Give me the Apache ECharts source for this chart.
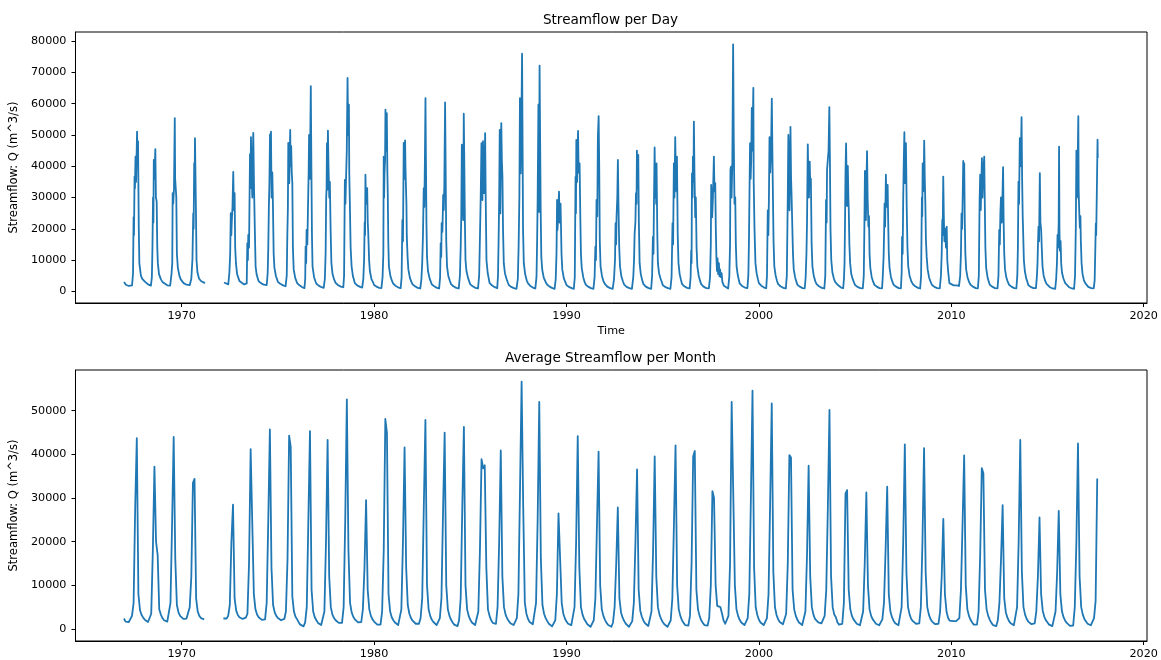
<!DOCTYPE html>
<html>
<head>
<meta charset="utf-8">
<script src="https://cdn.jsdelivr.net/npm/echarts@6/dist/echarts.min.js"></script>
<style>
html,body{margin:0;padding:0;background:#fff;}
#chart{width:1161px;height:660px;}
</style>
</head>
<body>
<div id="chart"></div>
<script>
// ---------- DATA ----------
// Daily streamflow, segment before the gap: [decimal year, Q m^3/s]
const dailyA = [
[1967.00,3000],[1967.10,2100],[1967.25,1700],[1967.42,1900],[1967.47,5700],[1967.50,23700],[1967.52,18000],[1967.55,36700],[1967.57,33000],[1967.60,43100],[1967.63,35000],[1967.68,51100],[1967.70,42000],[1967.73,48000],[1967.77,20000],[1967.80,8900],[1967.88,5000],[1967.95,4000],
[1968.00,3800],[1968.10,3000],[1968.25,2200],[1968.40,1800],[1968.45,4500],[1968.48,14000],[1968.51,30000],[1968.53,22000],[1968.55,42000],[1968.58,36000],[1968.63,45500],[1968.66,30000],[1968.70,28700],[1968.73,14200],[1968.76,9000],[1968.82,5500],[1968.92,3800],
[1969.00,3000],[1969.10,2400],[1969.25,1900],[1969.40,1800],[1969.47,5500],[1969.51,9000],[1969.53,31400],[1969.56,28000],[1969.60,33000],[1969.64,55400],[1969.66,36000],[1969.69,35600],[1969.72,30000],[1969.75,12000],[1969.80,7500],[1969.88,5000],[1969.95,3800],
[1970.00,3200],[1970.10,2600],[1970.25,2100],[1970.42,2000],[1970.50,4000],[1970.56,10500],[1970.60,24900],[1970.62,20000],[1970.65,41000],[1970.67,33500],[1970.69,49000],[1970.71,40000],[1970.74,26000],[1970.77,10000],[1970.82,6000],[1970.90,4100],
[1971.00,3300],[1971.10,2900],[1971.21,2600]
];
// Daily streamflow, segment after the gap
const dailyB = [
[1972.20,2800],[1972.30,2300],[1972.42,2200],[1972.48,6100],[1972.52,12000],[1972.55,25000],[1972.58,18000],[1972.60,21800],[1972.64,27000],[1972.68,38200],[1972.71,26000],[1972.75,31400],[1972.78,14000],[1972.82,8900],[1972.88,5500],[1972.95,4200],
[1973.00,3300],[1973.10,2700],[1973.25,2200],[1973.38,2500],[1973.41,15400],[1973.44,10000],[1973.46,18000],[1973.50,14000],[1973.55,43900],[1973.57,33000],[1973.60,49300],[1973.63,38000],[1973.67,30000],[1973.70,45000],[1973.72,50700],[1973.76,33000],[1973.80,20000],[1973.84,8000],[1973.90,5200],[1973.96,4000],
[1974.00,3200],[1974.12,2600],[1974.27,2100],[1974.42,2000],[1974.47,6000],[1974.50,14000],[1974.53,27000],[1974.56,35000],[1974.59,50200],[1974.62,42000],[1974.64,51100],[1974.67,30000],[1974.71,38000],[1974.74,28400],[1974.78,12000],[1974.82,7500],[1974.90,4800],[1974.96,3800],
[1975.00,3000],[1975.12,2400],[1975.27,1900],[1975.40,1600],[1975.46,5000],[1975.49,18000],[1975.52,27000],[1975.54,47500],[1975.57,38000],[1975.59,34600],[1975.64,51600],[1975.66,40000],[1975.69,46500],[1975.72,38000],[1975.75,34600],[1975.78,14000],[1975.82,7000],[1975.90,4300],[1975.96,3300],
[1976.00,2600],[1976.12,1900],[1976.27,1300],[1976.38,1000],[1976.42,4000],[1976.44,14300],[1976.47,9000],[1976.49,19600],[1976.53,15000],[1976.56,25400],[1976.60,38700],[1976.62,50000],[1976.66,36000],[1976.71,65600],[1976.74,40000],[1976.77,18000],[1976.80,8000],[1976.88,4500],[1976.95,3200],
[1977.00,2400],[1977.12,1800],[1977.27,1300],[1977.38,1100],[1977.44,4000],[1977.48,12000],[1977.51,30000],[1977.53,33000],[1977.55,47400],[1977.57,32500],[1977.60,51400],[1977.63,40000],[1977.67,30000],[1977.70,35000],[1977.74,19600],[1977.78,9000],[1977.84,5500],[1977.92,3800],
[1978.00,2700],[1978.12,2000],[1978.27,1500],[1978.40,1300],[1978.44,5000],[1978.48,35600],[1978.51,28000],[1978.55,38000],[1978.58,45000],[1978.62,68250],[1978.65,50000],[1978.69,59700],[1978.71,37700],[1978.74,28000],[1978.78,14000],[1978.83,8000],[1978.90,4800],[1978.96,3500],
[1979.00,2600],[1979.12,1900],[1979.27,1400],[1979.38,1200],[1979.44,4000],[1979.48,10000],[1979.51,22000],[1979.53,18000],[1979.55,37300],[1979.58,28000],[1979.61,30000],[1979.64,33000],[1979.67,22000],[1979.69,19600],[1979.72,14000],[1979.74,10000],[1979.78,6500],[1979.86,4000],[1979.95,2800],
[1980.00,2000],[1980.12,1500],[1980.27,1100],[1980.38,1000],[1980.44,4500],[1980.48,12000],[1980.50,43100],[1980.52,30000],[1980.54,37700],[1980.57,42000],[1980.59,58100],[1980.62,45000],[1980.66,57000],[1980.69,38000],[1980.71,31400],[1980.74,15000],[1980.77,8000],[1980.85,4800],[1980.93,3300],
[1981.00,2400],[1981.12,1700],[1981.27,1200],[1981.38,1000],[1981.43,4500],[1981.47,22800],[1981.50,16000],[1981.54,47500],[1981.57,36000],[1981.61,48300],[1981.63,40000],[1981.65,34600],[1981.68,28000],[1981.70,17400],[1981.74,11000],[1981.78,7000],[1981.86,4300],[1981.94,3000],
[1982.00,2200],[1982.12,1600],[1982.27,1100],[1982.40,900],[1982.46,4000],[1982.50,9000],[1982.54,18000],[1982.58,33000],[1982.61,27000],[1982.64,42000],[1982.67,61800],[1982.69,45000],[1982.72,22000],[1982.75,11000],[1982.80,6500],[1982.88,4200],[1982.95,3000],
[1983.00,2200],[1983.12,1600],[1983.27,1100],[1983.38,900],[1983.43,4500],[1983.46,15400],[1983.49,11000],[1983.51,21800],[1983.55,19000],[1983.59,30800],[1983.62,26000],[1983.65,34000],[1983.69,60400],[1983.72,37700],[1983.75,16000],[1983.79,8000],[1983.86,4800],[1983.94,3300],
[1984.00,2300],[1984.12,1600],[1984.27,1100],[1984.40,900],[1984.46,5000],[1984.50,14000],[1984.53,24000],[1984.56,46900],[1984.59,37700],[1984.63,22800],[1984.66,56800],[1984.69,40000],[1984.72,22000],[1984.75,10000],[1984.80,6500],[1984.88,4300],[1984.95,3000],
[1985.00,2200],[1985.12,1600],[1985.27,1100],[1985.40,900],[1985.46,5000],[1985.50,17000],[1985.54,30000],[1985.58,47400],[1985.61,38000],[1985.63,29200],[1985.66,48000],[1985.69,36000],[1985.72,31400],[1985.75,42000],[1985.77,50600],[1985.80,30000],[1985.84,10000],[1985.90,6000],[1985.96,4000],
[1986.00,2700],[1986.12,1900],[1986.27,1300],[1986.40,1000],[1986.44,5000],[1986.48,20000],[1986.50,30000],[1986.53,51600],[1986.56,24900],[1986.58,40000],[1986.61,53800],[1986.64,42000],[1986.67,36600],[1986.70,20000],[1986.74,9000],[1986.80,5800],[1986.88,4000],[1986.95,2800],
[1987.00,2000],[1987.12,1400],[1987.27,1000],[1987.40,800],[1987.47,4000],[1987.51,14000],[1987.55,30000],[1987.58,61800],[1987.62,37700],[1987.65,50000],[1987.69,76000],[1987.71,55000],[1987.74,20000],[1987.78,9000],[1987.85,5500],[1987.93,3500],
[1988.00,2500],[1988.12,1700],[1988.27,1100],[1988.38,900],[1988.44,4500],[1988.47,15000],[1988.50,29200],[1988.54,59700],[1988.57,25400],[1988.60,72200],[1988.63,48000],[1988.66,25000],[1988.69,11000],[1988.74,6800],[1988.82,4300],[1988.92,2900],
[1989.00,2100],[1989.12,1500],[1989.27,1000],[1989.38,800],[1989.44,4000],[1989.48,12000],[1989.51,29200],[1989.53,19600],[1989.57,24000],[1989.61,31900],[1989.64,22000],[1989.67,25000],[1989.69,28000],[1989.71,21800],[1989.74,12000],[1989.78,7000],[1989.86,4200],[1989.94,2900],
[1990.00,2000],[1990.12,1400],[1990.27,1000],[1990.38,800],[1990.43,4500],[1990.47,36600],[1990.49,25000],[1990.51,48400],[1990.55,35000],[1990.60,51300],[1990.63,38000],[1990.68,40900],[1990.72,22800],[1990.75,12000],[1990.79,7500],[1990.87,4500],[1990.94,3000],
[1991.00,2100],[1991.12,1500],[1991.27,1000],[1991.40,800],[1991.46,4500],[1991.50,14300],[1991.53,10000],[1991.56,29200],[1991.60,24000],[1991.63,49300],[1991.67,56000],[1991.70,40000],[1991.73,16000],[1991.77,8000],[1991.84,5000],[1991.92,3200],
[1992.00,2300],[1992.12,1500],[1992.27,1000],[1992.40,800],[1992.47,4000],[1992.52,10000],[1992.55,21800],[1992.58,15000],[1992.60,23700],[1992.64,30000],[1992.67,42000],[1992.70,28000],[1992.74,14000],[1992.78,8000],[1992.85,4800],[1992.93,3200],
[1993.00,2100],[1993.12,1400],[1993.27,1000],[1993.40,800],[1993.47,4500],[1993.51,10000],[1993.54,18500],[1993.58,22000],[1993.61,31400],[1993.64,28000],[1993.66,45000],[1993.69,33000],[1993.73,43600],[1993.76,22000],[1993.80,9000],[1993.86,5500],[1993.94,3400],
[1994.00,2300],[1994.12,1500],[1994.27,1000],[1994.40,800],[1994.45,5000],[1994.49,17400],[1994.52,12000],[1994.54,25900],[1994.58,46000],[1994.61,30000],[1994.63,38800],[1994.66,28000],[1994.68,40900],[1994.72,18000],[1994.75,9000],[1994.81,5800],[1994.89,4000],[1994.96,2800],
[1995.00,2000],[1995.12,1400],[1995.27,1000],[1995.40,800],[1995.46,4500],[1995.51,21800],[1995.54,15000],[1995.58,40900],[1995.61,30000],[1995.65,49300],[1995.68,38000],[1995.71,32000],[1995.74,43100],[1995.78,18000],[1995.82,9000],[1995.88,5500],[1995.95,3600],
[1996.00,2400],[1996.12,1600],[1996.27,1100],[1996.40,900],[1996.45,4500],[1996.48,13000],[1996.50,9000],[1996.52,37700],[1996.55,30000],[1996.57,43100],[1996.60,35000],[1996.62,54300],[1996.65,38000],[1996.69,23700],[1996.72,30000],[1996.76,14000],[1996.80,8000],[1996.87,5000],[1996.94,3400],
[1997.00,2300],[1997.12,1500],[1997.27,1000],[1997.40,900],[1997.46,4500],[1997.50,15000],[1997.52,34000],[1997.55,26000],[1997.57,23700],[1997.61,30000],[1997.66,43100],[1997.69,32000],[1997.73,34600],[1997.76,20000],[1997.79,11000],[1997.82,6500],[1997.85,10500],[1997.88,5500],[1997.92,9000],[1997.95,4800],[1997.98,7000],
[1998.02,4500],[1998.06,5800],[1998.10,3000],[1998.18,1800],[1998.28,1200],[1998.40,900],[1998.46,4500],[1998.50,15000],[1998.52,38800],[1998.55,39900],[1998.58,30000],[1998.62,42000],[1998.66,79000],[1998.69,50000],[1998.73,28000],[1998.77,30000],[1998.80,15000],[1998.84,8000],[1998.90,5200],[1998.96,3500],
[1999.00,2500],[1999.12,1700],[1999.27,1200],[1999.40,1000],[1999.45,5000],[1999.48,15000],[1999.51,31400],[1999.54,47400],[1999.57,36000],[1999.60,42000],[1999.63,58700],[1999.66,45000],[1999.71,65100],[1999.73,34600],[1999.77,20000],[1999.82,9000],[1999.88,5800],[1999.95,3800],
[2000.00,2600],[2000.12,1800],[2000.27,1200],[2000.38,1000],[2000.42,5000],[2000.46,25900],[2000.49,18000],[2000.52,30000],[2000.55,49300],[2000.59,38000],[2000.63,45000],[2000.67,61600],[2000.70,45000],[2000.72,34600],[2000.76,16000],[2000.80,8000],[2000.87,5000],[2000.94,3300],
[2001.00,2300],[2001.12,1600],[2001.27,1100],[2001.40,900],[2001.45,5000],[2001.48,20000],[2001.50,30000],[2001.53,50000],[2001.56,40000],[2001.59,25900],[2001.62,42000],[2001.64,52600],[2001.67,36600],[2001.70,30000],[2001.74,19600],[2001.77,12000],[2001.81,7000],[2001.88,4500],[2001.95,3000],
[2002.00,2100],[2002.12,1500],[2002.27,1000],[2002.38,900],[2002.43,4500],[2002.47,12000],[2002.50,21800],[2002.54,47000],[2002.57,36000],[2002.60,30000],[2002.64,41500],[2002.67,33600],[2002.70,36000],[2002.74,15000],[2002.78,8000],[2002.85,5000],[2002.93,3200],
[2003.00,2300],[2003.12,1600],[2003.27,1100],[2003.40,900],[2003.45,5000],[2003.49,29200],[2003.52,22000],[2003.54,38800],[2003.58,42000],[2003.62,45000],[2003.66,58900],[2003.69,42000],[2003.72,20000],[2003.76,10000],[2003.82,6000],[2003.90,4000],[2003.96,3000],
[2004.00,3000],[2004.12,1900],[2004.27,1200],[2004.38,1000],[2004.42,4000],[2004.45,9000],[2004.48,25000],[2004.50,38000],[2004.53,47300],[2004.56,35000],[2004.58,27300],[2004.62,40100],[2004.65,30000],[2004.67,26300],[2004.70,15400],[2004.74,9000],[2004.80,5500],[2004.88,3800],[2004.95,2700],
[2005.00,2000],[2005.12,1400],[2005.27,1000],[2005.40,900],[2005.45,5000],[2005.48,20000],[2005.51,38500],[2005.54,32000],[2005.56,22800],[2005.59,35000],[2005.62,44800],[2005.65,30000],[2005.69,20700],[2005.72,24000],[2005.75,12000],[2005.79,7500],[2005.86,4600],[2005.94,3000],
[2006.00,2100],[2006.12,1500],[2006.27,1000],[2006.40,900],[2006.44,5000],[2006.48,11000],[2006.51,20000],[2006.53,28000],[2006.56,20700],[2006.60,37300],[2006.63,27000],[2006.66,30000],[2006.69,34000],[2006.72,22000],[2006.75,12000],[2006.79,7500],[2006.86,4600],[2006.94,3000],
[2007.00,2100],[2007.12,1500],[2007.27,1000],[2007.38,900],[2007.42,6000],[2007.44,17400],[2007.47,12000],[2007.50,30000],[2007.53,42000],[2007.56,50900],[2007.58,38000],[2007.60,34600],[2007.64,47400],[2007.68,27300],[2007.72,14000],[2007.76,8000],[2007.83,5000],[2007.92,3200],
[2008.00,2300],[2008.12,1600],[2008.27,1100],[2008.38,900],[2008.43,5000],[2008.47,30000],[2008.49,24000],[2008.51,40900],[2008.54,32000],[2008.57,38000],[2008.59,48200],[2008.62,36000],[2008.65,28000],[2008.68,16400],[2008.72,11000],[2008.77,7000],[2008.84,4500],[2008.93,2900],
[2009.00,2000],[2009.12,1400],[2009.27,1000],[2009.40,900],[2009.46,5000],[2009.50,12000],[2009.53,22800],[2009.55,18000],[2009.58,36700],[2009.61,24000],[2009.64,16000],[2009.68,20000],[2009.72,14000],[2009.76,20700],[2009.79,10000],[2009.84,6000],[2009.90,2600],[2009.96,2200],
[2010.00,2000],[2010.12,1900],[2010.27,1900],[2010.40,1700],[2010.46,5000],[2010.50,12000],[2010.53,24900],[2010.56,20000],[2010.59,30000],[2010.62,41700],[2010.64,36000],[2010.67,40900],[2010.70,22000],[2010.73,12000],[2010.77,7000],[2010.84,4500],[2010.92,3000],
[2011.00,2100],[2011.12,1500],[2011.27,1000],[2011.38,900],[2011.43,5000],[2011.47,29200],[2011.50,37300],[2011.53,26000],[2011.56,34000],[2011.59,42600],[2011.62,30000],[2011.66,38000],[2011.71,43100],[2011.74,28000],[2011.77,14000],[2011.81,7500],[2011.88,4600],[2011.95,3000],
[2012.00,2100],[2012.12,1500],[2012.27,1000],[2012.40,900],[2012.45,5000],[2012.49,19600],[2012.52,15000],[2012.55,25000],[2012.58,30000],[2012.62,22000],[2012.65,28000],[2012.69,39700],[2012.72,22000],[2012.75,12000],[2012.79,7000],[2012.86,4400],[2012.94,2900],
[2013.00,2100],[2013.12,1500],[2013.27,1000],[2013.38,900],[2013.43,5000],[2013.46,14000],[2013.49,35100],[2013.52,28000],[2013.56,49000],[2013.59,40000],[2013.62,45000],[2013.65,55700],[2013.68,36000],[2013.71,24000],[2013.73,19600],[2013.77,10000],[2013.82,6500],[2013.89,4200],[2013.96,2900],
[2014.00,2000],[2014.12,1400],[2014.27,1000],[2014.40,1000],[2014.45,5000],[2014.48,9000],[2014.50,14300],[2014.53,20700],[2014.56,16000],[2014.60,37800],[2014.63,22000],[2014.67,19600],[2014.70,14000],[2014.74,8000],[2014.80,5000],[2014.88,3300],[2014.95,2400],
[2015.00,1900],[2015.12,1300],[2015.27,900],[2015.40,800],[2015.45,4000],[2015.49,9000],[2015.52,18000],[2015.55,14000],[2015.58,22000],[2015.60,46300],[2015.62,20000],[2015.64,13000],[2015.68,16000],[2015.71,9000],[2015.75,6000],[2015.83,4000],[2015.92,2600],
[2016.00,2000],[2016.12,1300],[2016.27,900],[2016.38,800],[2016.43,5000],[2016.47,20000],[2016.50,45000],[2016.53,30000],[2016.56,38000],[2016.60,56000],[2016.62,32000],[2016.65,25000],[2016.68,20300],[2016.71,24000],[2016.73,16400],[2016.77,9000],[2016.82,5500],[2016.89,3600],[2016.96,2600],
[2017.00,2000],[2017.12,1400],[2017.27,1000],[2017.40,900],[2017.45,3500],[2017.49,15300],[2017.51,21700],[2017.53,18000],[2017.57,35000],[2017.60,48500],[2017.61,42600]
];

// Monthly average streamflow: one row of 12 monthly means (Jan..Dec) per year; null = no data
const monthYears = [1967,1968,1969,1970,1971,1972,1973,1974,1975,1976,1977,1978,1979,1980,1981,1982,1983,1984,1985,1986,1987,1988,1989,1990,1991,1992,1993,1994,1995,1996,1997,1998,1999,2000,2001,2002,2003,2004,2005,2006,2007,2008,2009,2010,2011,2012,2013,2014,2015,2016,2017];
const monthQ = [
[2400,1700,1500,1600,2000,3000,6000,28000,43700,8000,4300,3200],
[2600,2100,1800,1600,1700,3500,18000,37200,20000,17000,4500,3300],
[2500,2000,1800,1700,2000,6000,24000,44000,16000,5500,3800,3000],
[2600,2300,2300,2400,2600,5000,12000,33500,34400,7000,4000,3000],
[2500,2300,2200,null,null,null,null,null,null,null,null,null],
[null,null,2400,2300,2400,3000,5500,20000,28500,7000,4200,3200],
[2700,2400,2300,2300,2600,3500,15000,41200,41000,8000,4500,3300],
[2700,2300,2100,2000,2200,6000,25000,45700,14000,5500,3800,3000],
[2500,2100,2000,2000,2300,4000,16000,44300,41700,7500,4000,2800],
[2200,1500,1000,700,600,1500,5000,25000,45350,9000,4000,2700],
[2000,1400,1100,900,1000,4000,20000,43300,12000,5000,3300,2500],
[2000,1600,1400,1300,1400,5000,25000,52600,18000,6000,3800,2800],
[2200,1800,1500,1400,1600,4500,14000,29500,9000,4500,3000,2200],
[1700,1300,1000,900,1000,4000,18000,48100,45000,8000,4000,2700],
[2000,1500,1100,900,1000,4500,20000,41600,14000,5500,3500,2500],
[1900,1500,1200,1100,1200,2500,7000,28000,47900,10000,4500,3000],
[2100,1600,1200,900,1000,2500,7000,27000,45000,10000,4500,3000],
[2100,1500,1000,700,650,2000,7000,28000,46300,10000,4500,3000],
[2100,1500,1100,900,1000,4000,18000,38900,36800,37500,14000,4500],
[3000,2000,1400,1100,1200,5000,20000,40900,12000,5000,3300,2400],
[1800,1300,1000,900,1000,2500,8000,32000,56660,28000,6000,3500],
[2300,1600,1200,1100,1200,6000,25000,52000,16000,5500,3500,2500],
[1800,1200,800,600,500,2000,8000,26500,26800,6000,3500,2400],
[1700,1200,1000,900,1000,5000,20000,44200,14000,5000,3300,2300],
[1700,1100,700,500,600,2000,7000,24000,40600,10000,4500,3000],
[2100,1400,900,600,500,1500,5000,15000,27850,7000,3800,2600],
[1800,1200,800,500,600,1800,6000,20000,36560,9000,4200,2800],
[1900,1300,900,700,800,4000,18000,39540,12000,5000,3300,2300],
[1600,1100,800,500,600,2000,7000,24000,42070,10000,4500,3000],
[2000,1400,900,700,800,3000,15000,39500,40770,9000,4500,3000],
[2000,1400,900,700,800,2500,10000,31600,30000,10000,5300,5500],
[5000,3500,1900,1200,1000,3000,15000,52000,52300,10000,4500,3000],
[2100,1500,1100,900,850,2500,8000,30000,54600,14000,5000,3200],
[2100,1500,1100,900,850,2500,8000,29000,51700,13000,5000,3200],
[2200,1600,1200,1100,1200,3500,15000,39850,39300,9000,4500,3000],
[2100,1500,1100,900,850,4000,17000,37400,12000,5000,3300,2300],
[1900,1500,1300,1300,1400,3000,9000,28000,50170,12000,5000,3300],
[2700,1500,1000,900,1200,6000,31000,31800,9000,4500,3000,2200],
[1700,1200,900,850,1000,4000,15000,31290,10000,4500,3000,2200],
[1700,1200,900,850,900,2200,6000,18000,32580,8000,4000,2700],
[1900,1300,1000,850,1000,5000,20000,42300,13000,5000,3300,2300],
[1800,1400,1200,1100,1300,5000,20000,41450,13000,5000,3300,2300],
[1700,1300,1100,1100,1200,4000,12000,25240,8000,4000,2500,1900],
[1800,1800,1700,1800,1800,2500,9000,24000,39770,10000,4500,3000],
[2100,1500,1000,850,1000,4000,17000,36860,35700,9000,4500,3000],
[2100,1400,900,700,650,2000,6000,16000,28380,7000,3800,2600],
[1800,1300,1000,850,1000,5000,20000,43290,13000,5000,3300,2300],
[1700,1300,1100,1100,1300,4000,12000,25550,8000,4200,2800,2000],
[1500,1000,700,650,800,4000,13000,27070,8000,4000,2700,1900],
[1400,1000,700,650,800,5000,20000,42500,12000,5000,3300,2300],
[1700,1200,900,850,1000,2500,6500,34500]
];

// Tick labels
const xTicks = [1970,1980,1990,2000,2010,2020];
const yTicksDay = [0,10000,20000,30000,40000,50000,60000,70000,80000];
const yTicksMonth = [0,10000,20000,30000,40000,50000];

// ---------- CHART ----------
const FONT = 'DejaVu Sans';
const BLUE = '#1f77b4';
const TICK_FS = 11.2;
const TITLE_FS = 13.6;

const monthlyData = [];
monthYears.forEach((y, i) => {
  monthQ[i].forEach((v, k) => {
    monthlyData.push(v == null ? '-' : [y + k / 12, v]);
  });
});

function xAxisOpt(gridIndex, name) {
  return {
    type: 'value', gridIndex: gridIndex, min: 1964.48, max: 2020.17,
    name: name || '', nameLocation: 'middle', nameGap: 23,
    nameTextStyle: {color: '#000', fontSize: TICK_FS, fontFamily: FONT},
    axisLine: {show: true, onZero: false, lineStyle: {color: '#000', width: 1}},
    axisTick: {show: true, length: 4, customValues: xTicks, lineStyle: {color: '#000', width: 1}},
    axisLabel: {show: true, customValues: xTicks, margin: 8, color: '#000', fontSize: TICK_FS, fontFamily: FONT,
      formatter: v => String(v)},
    splitLine: {show: false}
  };
}
function yAxisOpt(gridIndex, min, max, ticks) {
  return {
    type: 'value', gridIndex: gridIndex, min: min, max: max,
    name: 'Streamflow: Q (m^3/s)', nameLocation: 'middle', nameGap: 47, nameRotate: 90,
    nameTextStyle: {color: '#000', fontSize: 11.5, fontFamily: FONT},
    axisLine: {show: true, onZero: false, lineStyle: {color: '#000', width: 1}},
    axisTick: {show: true, length: 4, customValues: ticks, lineStyle: {color: '#000', width: 1}},
    axisLabel: {show: true, customValues: ticks, margin: 9, color: '#000', fontSize: TICK_FS, fontFamily: FONT,
      formatter: v => String(v)},
    splitLine: {show: false}
  };
}
function lineSeries(xi, yi, data) {
  return {
    type: 'line', xAxisIndex: xi, yAxisIndex: yi, data: data,
    showSymbol: false, symbol: 'none', connectNulls: false, animation: false,
    lineStyle: {color: BLUE, width: 1.8, join: 'round'}, itemStyle: {color: BLUE}
  };
}

const chart = echarts.init(document.getElementById('chart'), null, {renderer: 'canvas'});
chart.setOption({
  animation: false,
  backgroundColor: '#fff',
  title: [
    {text: 'Streamflow per Day', left: 610.5, top: 13, textAlign: 'center', padding: 0,
      textStyle: {fontSize: TITLE_FS, fontWeight: 'normal', color: '#000', fontFamily: FONT}},
    {text: 'Average Streamflow per Month', left: 610.5, top: 351, textAlign: 'center', padding: 0,
      textStyle: {fontSize: TITLE_FS, fontWeight: 'normal', color: '#000', fontFamily: FONT}}
  ],
  grid: [
    {left: 74, right: 14, top: 32, height: 271, show: true, borderColor: '#000', borderWidth: 1, containLabel: false},
    {left: 74, right: 14, top: 370, height: 271, show: true, borderColor: '#000', borderWidth: 1, containLabel: false}
  ],
  xAxis: [xAxisOpt(0, 'Time'), xAxisOpt(1)],
  yAxis: [yAxisOpt(0, -3750, 82950, yTicksDay), yAxisOpt(1, -2750, 59330, yTicksMonth)],
  series: [
    lineSeries(0, 0, dailyA),
    lineSeries(0, 0, dailyB),
    lineSeries(1, 1, monthlyData)
  ]
});
</script>
</body>
</html>
